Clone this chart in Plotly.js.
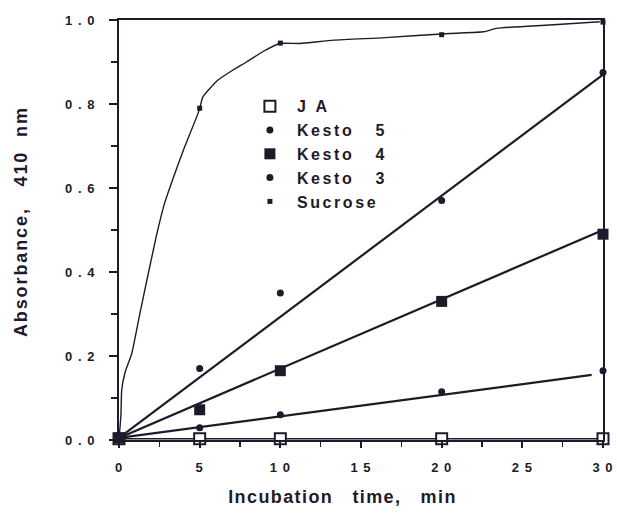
<!DOCTYPE html>
<html>
<head>
<meta charset="utf-8">
<script src="https://cdn.plot.ly/plotly-3.0.1.min.js"></script>
<style>
html,body{margin:0;padding:0;background:#fff;}
#chart{width:617px;height:524px;}
#chart text.legendtext{letter-spacing:2.6px;}
#chart .legend .scrollbox{clip-path:none !important;}
#chart .xtick text, #chart .ytick text{letter-spacing:1px;}
#chart g.annotation[data-index="0"] text{letter-spacing:1.4px;}
#chart g.annotation[data-index="1"] text{letter-spacing:1.9px;}
</style>
</head>
<body>
<div id="chart"></div>
<script>
// ---- data ----
var times = [0, 5, 10, 20, 30];
var jaValues = [0.003, 0.003, 0.003, 0.003, 0.003];
var kesto5Values = [0.005, 0.17, 0.35, 0.57, 0.875];
var kesto4Values = [0.005, 0.072, 0.165, 0.33, 0.49];
var kesto3Values = [0.005, 0.029, 0.06, 0.115, 0.165];
var sucroseValues = [0.01, 0.79, 0.945, 0.965, 0.995];

// fitted straight lines (end points)
var kesto5FitX = [0, 30];
var kesto5FitY = [0.005, 0.87];
var kesto4FitX = [0, 30];
var kesto4FitY = [0.005, 0.50];
var kesto3FitX = [0, 29.3];
var kesto3FitY = [0.005, 0.155];
var jaFitX = [0, 30];
var jaFitY = [0.003, 0.003];

// hand-drawn sucrose curve
var sucroseCurveX = [0, 0.12, 0.17, 0.37, 0.79, 1.3, 1.82, 2.34, 2.85, 3.4, 3.99, 4.98, 5.2, 6.14, 7.07, 7.9, 8.93, 9.98, 11.2, 13.3, 16.5, 20.5, 22.6, 23.4, 26.7, 29.8];
var sucroseCurveY = [0, 0.06, 0.12, 0.16, 0.206, 0.302, 0.397, 0.49, 0.567, 0.628, 0.69, 0.786, 0.817, 0.857, 0.881, 0.9, 0.925, 0.944, 0.944, 0.952, 0.958, 0.968, 0.972, 0.98, 0.988, 0.996];

var xTickVals = [0, 5, 10, 15, 20, 25, 30];
var xTickText = ['0', '5', '1 0', '1 5', '2 0', '2 5', '3 0'];
var yTickVals = [0, 0.2, 0.4, 0.6, 0.8, 1.0];
var yTickText = ['0 . 0', '0 . 2', '0 . 4', '0 . 6', '0 . 8', '1 . 0'];

var seriesNames = ['J\u00a0A', 'Kesto\u00a0\u00a0\u00a05', 'Kesto\u00a0\u00a0\u00a04', 'Kesto\u00a0\u00a0\u00a03', 'Sucrose'];
var xTitle = 'Incubation\u00a0\u00a0\u00a0time,\u00a0\u00a0\u00a0min';
var yTitle = 'Absorbance,\u00a0\u00a0\u00a0410\u00a0\u00a0nm';

var ink = '#1f1a29';
var FONT = 'Liberation Sans, Arial, Helvetica, sans-serif';

function fitLine(x, y, w) {
  return {x: x, y: y, mode: 'lines', showlegend: false, hoverinfo: 'skip',
          line: {color: ink, width: w}, cliponaxis: false};
}

var data = [
  fitLine(jaFitX, jaFitY, 1.5),
  fitLine(kesto5FitX, kesto5FitY, 2.2),
  fitLine(kesto4FitX, kesto4FitY, 2.2),
  fitLine(kesto3FitX, kesto3FitY, 2.2),
  {x: sucroseCurveX, y: sucroseCurveY, mode: 'lines', showlegend: false,
   line: {color: ink, width: 1.4, shape: 'spline', smoothing: 0.5}, cliponaxis: false},
  {x: times, y: jaValues, name: seriesNames[0], mode: 'markers', cliponaxis: false,
   marker: {symbol: 'square', size: 11, color: '#ffffff', line: {color: ink, width: 2}}},
  {x: times, y: kesto5Values, name: seriesNames[1], mode: 'markers', cliponaxis: false,
   marker: {symbol: 'circle', size: 7, color: ink, line: {width: 0}}},
  {x: times, y: kesto4Values, name: seriesNames[2], mode: 'markers', cliponaxis: false,
   marker: {symbol: 'square', size: 11, color: ink, line: {width: 0}}},
  {x: times, y: kesto3Values, name: seriesNames[3], mode: 'markers', cliponaxis: false,
   marker: {symbol: 'circle', size: 7, color: ink, line: {width: 0}}},
  {x: times, y: sucroseValues, name: seriesNames[4], mode: 'markers', cliponaxis: false,
   marker: {symbol: 'square', size: 5, color: ink, line: {width: 0}}}
];

var layout = {
  width: 617, height: 524,
  margin: {l: 119, r: 14, t: 20, b: 84},
  paper_bgcolor: '#ffffff', plot_bgcolor: '#ffffff',
  font: {family: FONT, color: ink, size: 12, weight: 'bold'},
  showlegend: true,
  legend: {x: 0.256, y: 0.835, xanchor: 'left', yanchor: 'top',
           bgcolor: 'rgba(0,0,0,0)', borderwidth: 0,
           font: {family: FONT, size: 16, color: ink, weight: 'bold'},
           itemwidth: 44},
  annotations: [
    {text: xTitle, xref: 'paper', yref: 'paper', x: 0.461, y: -0.136,
     xanchor: 'center', yanchor: 'middle', showarrow: false,
     font: {family: FONT, size: 18, color: ink, weight: 'bold'}},
    {text: yTitle, xref: 'paper', yref: 'paper', x: -0.2025, y: 0.521,
     xanchor: 'center', yanchor: 'middle', showarrow: false, textangle: -90,
     font: {family: FONT, size: 18, color: ink, weight: 'bold'}}
  ],
  xaxis: {
    range: [0, 30], showgrid: false, zeroline: false,
    showline: true, linecolor: ink, linewidth: 2, mirror: true,
    ticks: 'outside', ticklen: 6, tickwidth: 2, tickcolor: ink,
    tickmode: 'array', tickvals: xTickVals, ticktext: xTickText,
    ticklabelstandoff: 8,
    tickfont: {family: FONT, size: 13, color: ink, weight: 'bold'},
    minor: {tickmode: 'linear', tick0: 0, dtick: 2.5, ticks: 'outside', ticklen: 5, tickwidth: 1.5, tickcolor: ink, showgrid: false}
  },
  yaxis: {
    range: [0, 1.0], showgrid: false, zeroline: false,
    showline: true, linecolor: ink, linewidth: 2, mirror: true,
    ticks: 'outside', ticklen: 8, tickwidth: 2, tickcolor: ink,
    tickmode: 'array', tickvals: yTickVals, ticktext: yTickText,
    ticklabelstandoff: 11,
    tickfont: {family: FONT, size: 13, color: ink, weight: 'bold'},
    minor: {tickmode: 'linear', tick0: 0, dtick: 0.1, ticks: 'outside', ticklen: 6, tickwidth: 1.5, tickcolor: ink, showgrid: false}
  }
};

Plotly.newPlot('chart', data, layout, {staticPlot: true, displayModeBar: false});
</script>
</body>
</html>
